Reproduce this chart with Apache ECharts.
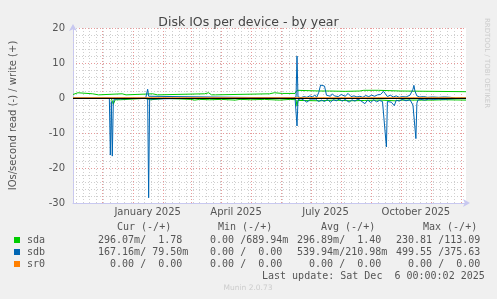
<!DOCTYPE html>
<html><head><meta charset="utf-8">
<script src="https://cdn.jsdelivr.net/npm/echarts@6/dist/echarts.min.js"></script>
<style>html,body{margin:0;padding:0;background:#f0f0f0}#c{width:497px;height:299px}</style>
</head><body><div id="c"></div>
<script>
// ---------- data ----------
const titleText = 'Disk IOs per device - by year';
const yAxisName = 'IOs/second read (-) / write (+)';
const yTicks = [-30, -20, -10, 0, 10, 20];
const xLabelDates = ['2025-01-16', '2025-04-16', '2025-07-16', '2025-10-16'];
const xLabels = ['January 2025', 'April 2025', 'July 2025', 'October 2025'];
const rangeStart = '2024-11-01';
const rangeEnd = '2025-12-06';

// sda write (+)
const sdaWriteDates = ['2024-11-01','2024-11-03','2024-11-06','2024-11-08','2024-11-21','2024-11-23','2024-11-27','2024-11-28','2024-12-21','2024-12-22','2024-12-25','2024-12-26','2025-01-21','2025-01-22','2025-01-26','2025-01-27','2025-03-15','2025-03-16','2025-03-19','2025-03-20','2025-03-22','2025-03-26','2025-03-27','2025-05-20','2025-05-21','2025-05-25','2025-05-26','2025-06-02','2025-06-15','2025-06-16','2025-06-17','2025-06-18','2025-07-10','2025-07-12','2025-07-20','2025-08-05','2025-08-20','2025-08-24','2025-08-26','2025-09-08','2025-09-10','2025-09-30','2025-10-01','2025-12-06'];
const sdaWriteVals = [1.0,1.2,1.5,1.2,1.2,0.9,0.9,1.2,1.2,0.9,0.9,1.2,1.2,0.9,0.9,1.2,1.2,1.5,1.5,1.2,0.9,0.9,1.2,1.2,1.5,1.5,1.2,1.3,1.3,1.6,2.2,2.0,2.0,2.1,2.0,1.9,2.0,2.2,2.0,2.2,2.0,2.0,1.8,1.8];

// sda read (-)
const sdaReadDates = ['2024-11-01','2024-11-09','2024-11-10','2024-11-11','2024-12-10','2024-12-12','2024-12-14','2024-12-19','2024-12-20','2025-01-13','2025-01-14','2025-01-19','2025-01-20','2025-02-03','2025-02-04','2025-03-01','2025-03-05','2025-03-10','2025-03-20','2025-04-01','2025-04-15','2025-04-20','2025-05-01','2025-05-15','2025-05-30','2025-06-10','2025-06-16','2025-06-17','2025-06-18','2025-07-10','2025-07-25','2025-08-10','2025-08-25','2025-09-10','2025-09-25','2025-10-01','2025-11-01','2025-11-15','2025-12-06'];
const sdaReadVals = [-0.1,-0.1,-0.5,-0.1,-0.1,-1.8,-0.5,-0.5,-0.1,-0.1,-0.5,-0.5,-0.1,-0.1,-0.5,-0.4,-0.6,-0.4,-0.5,-0.4,-0.6,-0.4,-0.5,-0.4,-0.6,-0.4,-0.5,-2.3,-0.7,-0.8,-0.6,-0.8,-0.7,-0.6,-0.8,-0.6,-0.6,-0.5,-0.6];

// sdb write (+)
const sdbWriteDates = ['2024-11-01','2025-01-14','2025-01-16','2025-01-17','2025-01-18','2025-06-13','2025-06-15','2025-06-16','2025-06-17','2025-06-18','2025-06-21','2025-06-24','2025-06-27','2025-06-30','2025-07-03','2025-07-05','2025-07-07','2025-07-09','2025-07-11','2025-07-13','2025-07-15','2025-07-17','2025-07-19','2025-07-21','2025-07-23','2025-07-25','2025-07-27','2025-07-29','2025-08-01','2025-08-03','2025-08-05','2025-08-08','2025-08-11','2025-08-14','2025-08-17','2025-08-20','2025-08-23','2025-08-26','2025-08-29','2025-09-01','2025-09-04','2025-09-07','2025-09-10','2025-09-13','2025-09-15','2025-09-17','2025-09-20','2025-09-23','2025-09-26','2025-09-29','2025-10-02','2025-10-06','2025-10-10','2025-10-13','2025-10-14','2025-10-15','2025-10-17','2025-10-20','2025-10-24','2025-10-28','2025-11-02','2025-11-08','2025-11-14','2025-11-20','2025-11-25','2025-12-06'];
const sdbWriteVals = [0,0,2.5,0.5,0,0,0.5,0.3,12.0,0.3,0.1,0.4,0.2,0.6,0.3,0.9,0.2,1.5,3.7,3.5,3.4,0.8,1.0,0.5,1.2,0.6,0.9,0.4,1.0,0.6,0.5,1.3,0.4,0.6,0.3,0.5,0.2,0.7,0.4,0.8,0.5,0.9,1.0,1.9,1.2,0.4,0.8,0.3,0.6,0.2,0.4,0.3,0.8,2.5,3.6,2.0,0.6,0.3,0.4,0.2,0.3,0.2,0.3,0.2,0,0];

// sdb read (-)
const sdbReadDates = ['2024-11-01','2024-11-09','2024-11-10','2024-11-11','2024-12-08','2024-12-09','2024-12-10','2024-12-11','2024-12-12','2024-12-13','2024-12-14','2025-01-16','2025-01-17','2025-01-18','2025-01-19','2025-03-18','2025-03-19','2025-03-21','2025-05-23','2025-05-24','2025-05-26','2025-06-15','2025-06-16','2025-06-17','2025-06-18','2025-06-21','2025-06-24','2025-06-27','2025-06-29','2025-07-01','2025-07-03','2025-07-06','2025-07-09','2025-07-12','2025-07-15','2025-07-18','2025-07-21','2025-07-24','2025-07-27','2025-07-30','2025-08-02','2025-08-05','2025-08-09','2025-08-12','2025-08-15','2025-08-18','2025-08-21','2025-08-25','2025-08-28','2025-08-31','2025-09-03','2025-09-06','2025-09-09','2025-09-12','2025-09-14','2025-09-16','2025-09-17','2025-09-19','2025-09-21','2025-09-24','2025-09-26','2025-09-29','2025-10-02','2025-10-06','2025-10-10','2025-10-13','2025-10-16','2025-10-17','2025-10-18','2025-10-21','2025-10-25','2025-10-29','2025-11-03','2025-11-08','2025-11-13','2025-11-18','2025-11-23','2025-11-25','2025-12-06'];
const sdbReadVals = [0,0,-0.4,0,0,-16.3,-1.0,-16.6,-1.5,-0.3,0,0,-28.5,-0.3,0,0,-0.5,0,0,-0.5,0,0,-0.5,-8.0,-0.5,-0.2,-0.6,-1.2,-1.2,-0.3,-0.8,-0.3,-1.0,-0.6,-1.0,-0.4,-1.2,-0.5,-0.8,-0.3,-0.9,-0.4,-1.2,-0.5,-0.9,-0.3,-0.8,-1.6,-0.6,-1.3,-0.5,-1.1,-0.7,-1.0,-0.6,-14.0,-1.0,-0.8,-1.2,-2.2,-0.6,-0.9,-0.4,-0.8,-0.5,-2.0,-11.6,-1.5,-0.6,-0.4,-0.6,-0.3,-0.4,-0.3,-0.4,-0.3,-0.2,0,0];

// sr0 (read / write)
const sr0Dates = ['2024-11-01','2025-12-06'];
const sr0ReadVals = [0, 0];
const sr0WriteVals = [0, 0];

// legend table
const devNames = ['sda', 'sdb', 'sr0'];
const devColors = ['#00cc00', '#0066b3', '#ff8000'];
const colHeaders = ['Cur (-/+)', 'Min (-/+)', 'Avg (-/+)', 'Max (-/+)'];
const curText = ['296.07m/  1.78', '167.16m/ 79.50m', '  0.00 /  0.00'];
const minText = ['  0.00 /689.94m', '  0.00 /  0.00', '  0.00 /  0.00'];
const avgText = ['296.89m/  1.40', '539.94m/210.98m', '  0.00 /  0.00'];
const maxText = ['230.81 /113.09', '499.55 /375.63', '  0.00 /  0.00'];
const lastUpdate = 'Last update: Sat Dec  6 00:00:02 2025';
const footer = 'Munin 2.0.73';
const watermark = 'RRDTOOL / TOBI OETIKER';

// ---------- build ----------
const t = s => { const p = s.split('-').map(Number); return new Date(p[0], p[1] - 1, p[2]).getTime(); };
const pairs = (ds, vs) => ds.map((d, i) => [t(d), vs[i]]);

const monthLines = [];
for (let m = 0; m <= 12; m++) monthLines.push(new Date(2024, 11 + m, 1).getTime());
const weekLines = [];
for (let k = 0; ; k++) { const v = new Date(2024, 10, 4 + 7 * k).getTime(); if (v >= t(rangeEnd)) break; weekLines.push(v); }
const minorY = [];
for (let v = yTicks[0] + 2; v < yTicks[yTicks.length - 1]; v += 2) if (v % 10 !== 0) minorY.push(v);

const labelVals = xLabelDates.map(t);
const mono = '"DejaVu Sans Mono", monospace';
const sans = '"DejaVu Sans", sans-serif';
const minorStyle = { color: '#cfcfcf', type: [1, 2], width: 1 };
const majorStyle = { color: '#e89a9a', type: [1, 2], width: 1 };

const lineSeries = (name, data, color) => ({
  name, type: 'line', data, symbol: 'none', showSymbol: false, animation: false,
  lineStyle: { color, width: 1 }, itemStyle: { color }, z: 3
});

const graphics = [];
const colX = [98, 198, 297, 396];
const headX = [117, 218, 321, 423];
const rowY = [240, 252, 264];
colHeaders.forEach((h, i) => graphics.push({ type: 'text', x: headX[i], y: 227, style: { text: h, font: '10px ' + mono, fill: '#555', verticalAlign: 'middle' } }));
const cols = [curText, minText, avgText, maxText];
devNames.forEach((n, r) => {
  graphics.push({ type: 'rect', shape: { x: 14, y: rowY[r] - 3, width: 6, height: 6 }, style: { fill: devColors[r] } });
  graphics.push({ type: 'text', x: 27, y: rowY[r], style: { text: n, font: '10px ' + mono, fill: '#555', verticalAlign: 'middle' } });
  cols.forEach((c, ci) => graphics.push({ type: 'text', x: colX[ci], y: rowY[r], style: { text: c[r], font: '10px ' + mono, fill: '#555', verticalAlign: 'middle' } }));
});
graphics.push({ type: 'text', x: 262, y: 276, style: { text: lastUpdate, font: '10px ' + mono, fill: '#555', verticalAlign: 'middle' } });
graphics.push({ type: 'text', x: 248, y: 288, style: { text: footer, font: '7.5px ' + sans, fill: '#cccccc', align: 'center', verticalAlign: 'middle' } });
graphics.push({ type: 'text', x: 487, y: 63, rotation: -Math.PI / 2, style: { text: watermark, font: '7px ' + sans, fill: '#cccccc', align: 'center', verticalAlign: 'middle' } });

const option = {
  backgroundColor: '#f0f0f0',
  animation: false,
  title: { text: titleText, left: 'center', top: 11, textStyle: { fontFamily: sans, fontSize: 12.5, fontWeight: 'normal', color: '#444' } },
  grid: { left: 66, right: 31, top: 28, bottom: 96, show: true, backgroundColor: '#ffffff', borderWidth: 0 },
  xAxis: {
    type: 'value', min: t(rangeStart), max: t(rangeEnd),
    axisLine: { show: true, onZero: false, lineStyle: { color: '#c8c8f0', width: 1 }, symbol: ['none', 'arrow'], symbolSize: [6, 7], symbolOffset: [0, 4] },
    axisTick: { show: false },
    splitLine: { show: false },
    axisLabel: {
      customValues: labelVals,
      formatter: v => { const i = labelVals.indexOf(v); return i >= 0 ? xLabels[i] : ''; },
      fontFamily: sans, fontSize: 10, color: '#555', margin: 4
    }
  },
  yAxis: {
    type: 'value', min: yTicks[0], max: yTicks[yTicks.length - 1], interval: 10,
    name: yAxisName, nameLocation: 'middle', nameGap: 55,
    nameTextStyle: { fontFamily: sans, fontSize: 10, color: '#555' },
    axisLine: { show: true, lineStyle: { color: '#c8c8f0', width: 1 }, symbol: ['none', 'arrow'], symbolSize: [6, 7], symbolOffset: [0, 4] },
    axisTick: { show: false },
    axisLabel: { fontFamily: sans, fontSize: 10, color: '#555', margin: 8 },
    splitLine: { show: true, lineStyle: majorStyle }
  },
  graphic: graphics,
  series: [
    {
      type: 'line', data: [], silent: true, z: 1,
      markLine: {
        silent: true, z: 1, symbol: ['none', 'none'], animation: false, label: { show: false },
        data: minorY.map(v => ({ yAxis: v, lineStyle: minorStyle }))
          .concat(weekLines.map(v => ({ xAxis: v, lineStyle: minorStyle })))
          .concat(monthLines.map(v => ({ xAxis: v, lineStyle: majorStyle })))
      }
    },
    lineSeries('sda read', pairs(sdaReadDates, sdaReadVals), devColors[0]),
    lineSeries('sda write', pairs(sdaWriteDates, sdaWriteVals), devColors[0]),
    lineSeries('sdb read', pairs(sdbReadDates, sdbReadVals), devColors[1]),
    lineSeries('sdb write', pairs(sdbWriteDates, sdbWriteVals), devColors[1]),
    lineSeries('sr0 read', pairs(sr0Dates, sr0ReadVals), devColors[2]),
    Object.assign(lineSeries('sr0 write', pairs(sr0Dates, sr0WriteVals), devColors[2]), {
      markLine: {
        silent: true, z: 10, symbol: ['none', 'none'], animation: false, label: { show: false },
        data: [{ yAxis: 0, lineStyle: { color: '#000000', type: 'solid', width: 1 } }]
      }
    })
  ]
};
const chart = echarts.init(document.getElementById('c'));
chart.setOption(option);
</script>
</body></html>
